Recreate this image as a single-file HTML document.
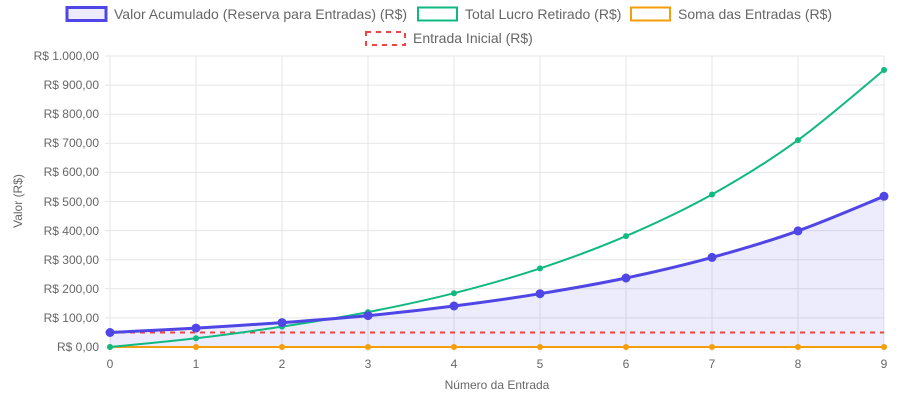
<!DOCTYPE html>
<html><head><meta charset="utf-8"><style>
body{margin:0;background:#fff;}
svg{display:block;font-family:"Liberation Sans",Arial,sans-serif;}
</style></head><body>
<svg width="913" height="402" viewBox="0 0 913 402">
<g stroke="#e5e5e5" stroke-width="1">
<line x1="105" y1="56" x2="884" y2="56"/><line x1="105" y1="85.1" x2="884" y2="85.1"/><line x1="105" y1="114.2" x2="884" y2="114.2"/><line x1="105" y1="143.3" x2="884" y2="143.3"/><line x1="105" y1="172.4" x2="884" y2="172.4"/><line x1="105" y1="201.5" x2="884" y2="201.5"/><line x1="105" y1="230.6" x2="884" y2="230.6"/><line x1="105" y1="259.7" x2="884" y2="259.7"/><line x1="105" y1="288.8" x2="884" y2="288.8"/><line x1="105" y1="317.9" x2="884" y2="317.9"/><line x1="105" y1="347" x2="884" y2="347"/>
<line x1="110" y1="56" x2="110" y2="352"/><line x1="196" y1="56" x2="196" y2="352"/><line x1="282" y1="56" x2="282" y2="352"/><line x1="368" y1="56" x2="368" y2="352"/><line x1="454" y1="56" x2="454" y2="352"/><line x1="540" y1="56" x2="540" y2="352"/><line x1="626" y1="56" x2="626" y2="352"/><line x1="712" y1="56" x2="712" y2="352"/><line x1="798" y1="56" x2="798" y2="352"/><line x1="884" y1="56" x2="884" y2="352"/>
</g>
<g font-size="12" fill="#666" text-anchor="end">
<text x="99" y="60">R$ 1.000,00</text><text x="99" y="89">R$ 900,00</text><text x="99" y="118">R$ 800,00</text><text x="99" y="147">R$ 700,00</text><text x="99" y="176">R$ 600,00</text><text x="99" y="206">R$ 500,00</text><text x="99" y="235">R$ 400,00</text><text x="99" y="264">R$ 300,00</text><text x="99" y="293">R$ 200,00</text><text x="99" y="322">R$ 100,00</text><text x="99" y="351">R$ 0,00</text>
</g>
<g font-size="12" fill="#666" text-anchor="middle">
<text x="110" y="368">0</text><text x="196" y="368">1</text><text x="282" y="368">2</text><text x="368" y="368">3</text><text x="454" y="368">4</text><text x="540" y="368">5</text><text x="626" y="368">6</text><text x="712" y="368">7</text><text x="798" y="368">8</text><text x="884" y="368">9</text>
<text x="497" y="389">Número da Entrada</text>
<text transform="translate(22,201) rotate(-90)">Valor (R$)</text>
</g>
<path id="fillA" fill="rgba(79,70,229,0.1)" d=""/>
<line x1="110" y1="332.5" x2="884" y2="332.5" stroke="#ef4444" stroke-width="2" stroke-dasharray="5,5"/>
<polyline fill="none" stroke="#f59e0b" stroke-width="2" points="110,347 884,347"/>
<g fill="#f59e0b"><circle cx="110" cy="347" r="3"/><circle cx="196" cy="347" r="3"/><circle cx="282" cy="347" r="3"/><circle cx="368" cy="347" r="3"/><circle cx="454" cy="347" r="3"/><circle cx="540" cy="347" r="3"/><circle cx="626" cy="347" r="3"/><circle cx="712" cy="347" r="3"/><circle cx="798" cy="347" r="3"/><circle cx="884" cy="347" r="3"/></g>
<path id="lineG" fill="none" stroke="#10b981" stroke-width="2" d="M110,347 L196,338.3 L282,326.6 L368,312.1 L454,293.2 L540,268.4 L626,236.1 L712,194.5 L798,140.1 L884,70"/>
<g fill="#10b981"><circle cx="110" cy="347" r="3"/><circle cx="196" cy="338.3" r="3"/><circle cx="282" cy="326.6" r="3"/><circle cx="368" cy="312.1" r="3"/><circle cx="454" cy="293.2" r="3"/><circle cx="540" cy="268.4" r="3"/><circle cx="626" cy="236.1" r="3"/><circle cx="712" cy="194.5" r="3"/><circle cx="798" cy="140.1" r="3"/><circle cx="884" cy="70" r="3"/></g>
<path id="lineA" fill="none" stroke="#4f46e5" stroke-width="3" d="M110,332.5 L196,328.1 L282,322.6 L368,315.6 L454,306 L540,293.7 L626,278 L712,257.4 L798,230.9 L884,196.3"/>
<g fill="#4f46e5"><circle cx="110" cy="332.5" r="4.5"/><circle cx="196" cy="328.1" r="4.5"/><circle cx="282" cy="322.6" r="4.5"/><circle cx="368" cy="315.6" r="4.5"/><circle cx="454" cy="306" r="4.5"/><circle cx="540" cy="293.7" r="4.5"/><circle cx="626" cy="278" r="4.5"/><circle cx="712" cy="257.4" r="4.5"/><circle cx="798" cy="230.9" r="4.5"/><circle cx="884" cy="196.3" r="4.5"/></g>
<g font-size="14" fill="#666">
<rect x="67" y="7.5" width="39" height="13" fill="rgba(79,70,229,0.1)" stroke="#4f46e5" stroke-width="3"/>
<text x="114" y="19">Valor Acumulado (Reserva para Entradas) (R$)</text>
<rect x="418" y="7.5" width="39" height="13" fill="#fff" stroke="#10b981" stroke-width="2"/>
<text x="465" y="19">Total Lucro Retirado (R$)</text>
<rect x="631" y="7.5" width="39" height="13" fill="#fff" stroke="#f59e0b" stroke-width="2"/>
<text x="678" y="19">Soma das Entradas (R$)</text>
<rect x="366" y="32" width="39" height="13" fill="#fff" stroke="#ef4444" stroke-width="2" stroke-dasharray="5,5"/>
<text x="413" y="43">Entrada Inicial (R$)</text>
</g>
</svg>
<script>
function smooth(p,k){var d="M"+p[0][0]+","+p[0][1];for(var i=0;i<p.length-1;i++){var a=p[i-1]||p[i],b=p[i],c=p[i+1],e=p[i+2]||c;var c1x=b[0]+(c[0]-a[0])*k,c1y=b[1]+(c[1]-a[1])*k,c2x=c[0]-(e[0]-b[0])*k,c2y=c[1]-(e[1]-b[1])*k;d+=" C"+c1x.toFixed(1)+","+c1y.toFixed(1)+" "+c2x.toFixed(1)+","+c2y.toFixed(1)+" "+c[0]+","+c[1];}return d;}
var X=[110,196,282,368,454,540,626,712,798,884];
var A=[332.5,328.1,322.6,315.6,306,293.7,278,257.4,230.9,196.3].map(function(y,i){return[X[i],y]});
var G=[347,338.3,326.6,312.1,293.2,268.4,236.1,194.5,140.1,70].map(function(y,i){return[X[i],y]});
var da=smooth(A,0.17);
document.getElementById("lineA").setAttribute("d",da);
document.getElementById("fillA").setAttribute("d",da+" L884,347 L110,347 Z");
document.getElementById("lineG").setAttribute("d",smooth(G,0.17));
</script>
</body></html>
